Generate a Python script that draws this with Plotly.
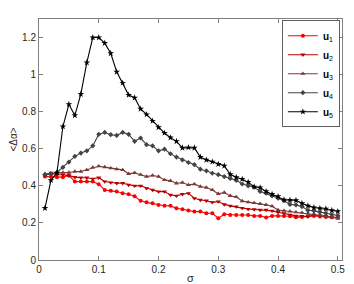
import plotly.graph_objects as go

sigma = [0.01, 0.02, 0.03, 0.04, 0.05, 0.06, 0.07, 0.08, 0.09, 0.10,
         0.11, 0.12, 0.13, 0.14, 0.15, 0.16, 0.17, 0.18, 0.19, 0.20,
         0.21, 0.22, 0.23, 0.24, 0.25, 0.26, 0.27, 0.28, 0.29, 0.30,
         0.31, 0.32, 0.33, 0.34, 0.35, 0.36, 0.37, 0.38, 0.39, 0.40,
         0.41, 0.42, 0.43, 0.44, 0.45, 0.46, 0.47, 0.48, 0.49, 0.50]

u1 = [0.450, 0.450, 0.447, 0.447, 0.456, 0.423, 0.423, 0.423, 0.423, 0.409,
      0.378, 0.373, 0.369, 0.360, 0.355, 0.344, 0.319, 0.311, 0.306, 0.297,
      0.293, 0.292, 0.279, 0.274, 0.267, 0.261, 0.261, 0.252, 0.252, 0.225,
      0.247, 0.243, 0.243, 0.243, 0.243, 0.238, 0.238, 0.229, 0.238, 0.238,
      0.238, 0.236, 0.230, 0.232, 0.236, 0.238, 0.235, 0.232, 0.230, 0.228]

u2 = [0.455, 0.470, 0.460, 0.460, 0.455, 0.447, 0.444, 0.444, 0.438, 0.444,
      0.423, 0.418, 0.414, 0.414, 0.405, 0.400, 0.400, 0.387, 0.378, 0.369,
      0.369, 0.351, 0.346, 0.355, 0.360, 0.333, 0.324, 0.320, 0.311, 0.315,
      0.300, 0.292, 0.288, 0.280, 0.275, 0.273, 0.270, 0.270, 0.265, 0.258,
      0.252, 0.243, 0.238, 0.236, 0.234, 0.243, 0.240, 0.236, 0.230, 0.228]

u3 = [0.465, 0.468, 0.472, 0.472, 0.472, 0.477, 0.477, 0.486, 0.499, 0.506,
      0.501, 0.495, 0.490, 0.486, 0.465, 0.470, 0.460, 0.450, 0.456, 0.450,
      0.432, 0.427, 0.414, 0.418, 0.405, 0.409, 0.396, 0.391, 0.378, 0.357,
      0.364, 0.346, 0.340, 0.318, 0.312, 0.308, 0.303, 0.298, 0.290, 0.270,
      0.266, 0.262, 0.258, 0.255, 0.252, 0.248, 0.242, 0.236, 0.230, 0.225]

u4 = [0.460, 0.463, 0.472, 0.500, 0.528, 0.559, 0.577, 0.589, 0.616, 0.678,
      0.688, 0.676, 0.672, 0.688, 0.678, 0.640, 0.658, 0.622, 0.616, 0.589,
      0.598, 0.573, 0.555, 0.540, 0.526, 0.514, 0.490, 0.481, 0.468, 0.460,
      0.450, 0.440, 0.430, 0.410, 0.400, 0.393, 0.370, 0.360, 0.346, 0.333,
      0.320, 0.300, 0.297, 0.288, 0.268, 0.265, 0.258, 0.252, 0.245, 0.240]

u5 = [0.280, 0.430, 0.470, 0.720, 0.840, 0.780, 0.895, 1.065, 1.200, 1.200,
      1.170, 1.115, 1.015, 0.955, 0.890, 0.875, 0.815, 0.785, 0.750, 0.715,
      0.685, 0.660, 0.640, 0.605, 0.607, 0.605, 0.555, 0.540, 0.530, 0.517,
      0.508, 0.462, 0.446, 0.436, 0.420, 0.395, 0.390, 0.370, 0.355, 0.343,
      0.325, 0.323, 0.322, 0.306, 0.292, 0.283, 0.279, 0.276, 0.268, 0.262]

series_names = ["<b>u</b><sub>1</sub>", "<b>u</b><sub>2</sub>", "<b>u</b><sub>3</sub>",
                "<b>u</b><sub>4</sub>", "<b>u</b><sub>5</sub>"]
series_vals = [u1, u2, u3, u4, u5]
colors = ["#FF0000", "#B80000", "#7A3A3A", "#444444", "#000000"]
symbols = ["circle", "triangle-down", "triangle-up", "diamond", "star"]
msizes = [4, 4.5, 4.5, 4, 5]

x_ticks = [0, 0.1, 0.2, 0.3, 0.4, 0.5]
y_ticks = [0, 0.2, 0.4, 0.6, 0.8, 1, 1.2]

fig = go.Figure()
for name, vals, c, s, ms in zip(series_names, series_vals, colors, symbols, msizes):
    fig.add_trace(go.Scatter(
        x=sigma, y=vals, mode="lines+markers", name=name,
        line=dict(color=c, width=1.1),
        marker=dict(symbol=s, size=ms, color=c, line=dict(width=0)),
    ))

axis_common = dict(
    showline=True, linecolor="#808080", linewidth=1, mirror="ticks",
    ticks="inside", ticklen=4, tickcolor="#808080",
    showgrid=False, zeroline=False, automargin=False,
    tickfont=dict(family="Liberation Sans, Arial", size=10, color="#262626"),
)

# page body has an 8px default margin, so the figure is sized to fit the window
fig.update_layout(
    width=346, height=276,
    margin=dict(l=31, r=12, t=11, b=24, autoexpand=False),
    paper_bgcolor="white", plot_bgcolor="white",
    showlegend=True,
    legend=dict(
        x=0.993, y=0.995, xanchor="right", yanchor="top",
        bgcolor="white", bordercolor="#606060", borderwidth=1,
        font=dict(family="Liberation Sans, Arial", size=10, color="#000000"),
        itemwidth=30, tracegroupgap=0,
    ),
    xaxis=dict(range=[0, 0.507], tickvals=x_ticks,
               ticktext=["0", "0.1", "0.2", "0.3", "0.4", "0.5"],
               title=dict(text="σ", standoff=2,
                          font=dict(family="Liberation Sans, Arial", size=11, color="#262626")),
               **axis_common),
    yaxis=dict(range=[0, 1.3], tickvals=y_ticks,
               ticktext=["0", "0.2", "0.4", "0.6", "0.8", "1", "1.2"],
               title=dict(text="<Δα>", standoff=4,
                          font=dict(family="Liberation Sans, Arial", size=10, color="#262626")),
               **axis_common),
)

fig.write_html("out.html")
